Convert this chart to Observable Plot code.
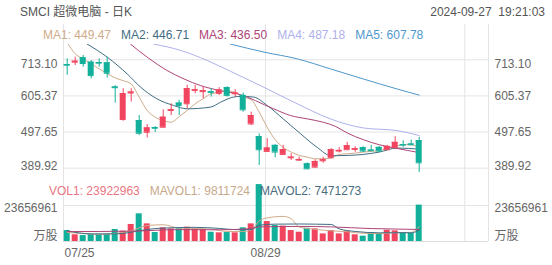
<!DOCTYPE html>
<html><head><meta charset="utf-8">
<script src="https://cdn.jsdelivr.net/npm/d3@7"></script>
<script src="https://cdn.jsdelivr.net/npm/@observablehq/plot@0.6"></script>
<style>
body{margin:0;background:#fff;}
#chart{position:relative;width:552px;height:265px;overflow:hidden;background:#fff;font-family:"Liberation Sans",Arial,"Noto Sans CJK SC",sans-serif;font-size:12px;}
.abs{position:absolute;white-space:nowrap;line-height:14px;}
.lg span{margin-right:10px;}
#price,#vol{position:absolute;left:0;}
#price{top:0;} #vol{top:180px;}
</style></head><body><div id="chart"><div id="price"></div><div id="vol"></div></div>
<script>
const title = "SMCI 超微电脑 - 日K";
const stamp = "2024-09-27\u00a0\u00a019:21:03";
const maNames = ["MA1", "MA2", "MA3", "MA4", "MA5"];
const maLast = ["449.47", "446.71", "436.50", "487.18", "607.78"];
const volNames = ["VOL1", "MAVOL1", "MAVOL2"];
const volLast = ["23922963", "9811724", "7471273"];
const dateLabels = ["07/25", "08/29"];
const dateIdx = [-0.4625, 24.8];
const gridIdx = [-0.4625, 24.8, 49.7, 52.6625];
const priceTicks = [389.92, 497.65, 605.37, 713.10];
const volTicks = [23656961];

const open  = [699,706,719,706,705,704,632,535,614,532,497,511,512,562,584,582,622,618,618,613,630,612,607,522,484,440,458,431,421,414,403,393,412,421,441,445,446,451,444,452,445,451,460,462,472];
const high  = [716,721,726,711,716,721,636,627,627,547,520,514,564,582,592,637,637,631,627,630,633,624,614,557,492,478,460,458,433,423,406,415,423,448,451,467,454,454,458,455,458,484,472,474,482];
const low   = [667,696,691,656,691,659,584,530,587,487,480,496,512,547,547,567,612,597,602,607,602,602,557,517,398,438,421,431,413,410,386,391,405,418,435,443,437,437,440,437,443,448,452,457,377];
const close = [697,709,702,666,703,673,630,612,617,494,510,509,542,564,577,627,624,621,616,623,607,614,564,547,445,450,438,445,423,416,388,410,415,445,443,457,448,441,442,441,455,467,459,460,406];
const volume = [7.2,4.4,3.9,4.8,4.8,4.8,7.9,6.8,11.2,18.2,11.6,5.9,9.0,8.3,8.3,9.4,8.3,7.9,6.1,5.7,5.9,5.7,9.0,11.6,37.4,13.1,10.5,10.1,7.2,6.1,8.7,8.3,5.0,7.2,5.0,6.8,4.4,3.5,5.7,5.2,7.4,7.0,5.5,5.3,23.92]; // millions

const ma1Idx = [0,1,2,3,4,5,6,7,8,9,10,11,12,13,14,15,16,17,18,19,20,21,22,23,24,25,26,27,28,29,30,31,32,33,34,35,36,37,38,39,40,41,42,43,44];
const ma1Val = [765,731,716,701,686,672,659,651,641,602,562,542,532,527,544,562,582,597,612,616,620,616,602,594,557,512,475,452,438,428,423,418,418,421,431,433,435,438,440,443,448,455,460,460,449.47];
const ma2Idx = [2.5,5,7.5,9.2,11.2,13.3,15,17.9,19.2,20.8,21.7,23.3,25,27,29.2,31.25,33,35,37,39,41.25,44];
const ma2Val = [760,721,671,631,597,577,567,572,587,602,604,602,577,537,492,452,427,428,431,438,450,446.71];
const ma3Idx = [7.9,10,12.5,14.6,16.7,19.2,21.25,25.8,27.9,30,32,33.5,35,37,39,41,44];
const ma3Val = [760,721,681,656,636,621,612,567,547,537,527,515,495,475,460,450,436.5];
const ma4Idx = [10.8,14.2,17.5,20.4,24.6,28.75,32.9,37,41.25,44];
const ma4Val = [760,741,711,679,631,582,537,510,502,487.18];
const ma5Idx = [20.4,24.6,28.75,32.9,37,41.25,44];
const ma5Val = [760,736,716,686,656,626,607.78];

const mv1Idx = [0,2,4,6,8,10,12,14,16,18,20,22,23,24,25,27,28,29,31,33,35,37,39,41,43,44];
const mv1Val = [6.0,5.2,4.6,5.3,7.0,10.5,11.0,8.8,8.6,8.0,6.6,6.5,7.6,13.5,15.5,16.5,15.0,9.5,8.0,7.0,6.4,5.4,5.2,5.8,6.0,9.81];
const mv2Idx = [0,3,6,9,10,13,16,19,21,23,24,26,29,31,33,34,36,39,42,43,44];
const mv2Val = [7.0,5.0,5.0,7.0,7.9,9.0,9.3,8.6,7.8,7.8,10.7,11.4,11.5,11.4,11.2,8.3,6.6,5.7,5.8,5.7,7.47];
const mv3Idx = [0,8,14,19,23,24,29,33,38,41,44];
const mv3Val = [6.5,6.8,7.8,7.7,8.5,9.6,9.9,9.6,8.5,8.2,7.9];

const UP = "#f1455f", DOWN = "#12b09a", GRID = "#e4e4e4", LABEL = "#666";
const maColors = ["#d0ab8a", "#3f6d84", "#ad4577", "#aeb1ea", "#4d97cb"];
const volColors = ["#ea7683", "#c8a98c", "#4a6c80"];
const mvColors = ["#d0ab8a", "#3f6d84", "#ad4577"];
const FONT = '"Liberation Sans", Arial, "Noto Sans CJK SC", sans-serif';

const candles = open.map((o, i) => ({i, o, h: high[i], l: low[i], c: close[i], v: volume[i] * 1e6, col: close[i] >= o ? UP : DOWN}));
const pts = (idx, val, k = 1) => idx.map((x, j) => ({x, v: val[j] * k}));

const xDom = [-0.4625, 52.6625];
const HW = 0.375;

const chart = document.getElementById("chart");
function addText(txt, css, color) {
  const d = document.createElement("div");
  d.className = "abs"; d.style.cssText = css; d.style.color = color; d.textContent = txt;
  chart.appendChild(d); return d;
}
addText(title, "left:20px;top:5px;", "#555");
addText(stamp, "right:7px;top:5px;", "#555");

const maLines = [[ma1Idx, ma1Val], [ma2Idx, ma2Val], [ma3Idx, ma3Val], [ma4Idx, ma4Val], [ma5Idx, ma5Val]];

const price = Plot.plot({
  width: 552, height: 180,
  marginLeft: 63, marginRight: 64, marginTop: 44, marginBottom: 4,
  x: {domain: xDom, axis: null},
  y: {domain: [365.2, 758.7], axis: null},
  color: {type: "identity"},
  style: {background: "transparent", fontFamily: FONT},
  marks: [
    Plot.ruleY(priceTicks, {y: d => d, stroke: GRID}),
    Plot.ruleX(gridIdx, {x: d => d, y1: () => 818, y2: () => 353, stroke: GRID}),
    ...maLines.map(([ix, vv], k) => Plot.line(pts(ix, vv), {x: "x", y: "v", stroke: maColors[k], strokeWidth: 1, curve: "monotone-x", clip: true})),
    Plot.ruleX(candles, {x: "i", y1: "l", y2: "h", stroke: "col", strokeWidth: 1}),
    Plot.rect(candles, {x1: d => d.i - HW, x2: d => d.i + HW, y1: "o", y2: "c", fill: "col"}),
    Plot.ruleY(candles, {y: "c", x1: d => d.i - HW, x2: d => d.i + HW, stroke: "col"}),
    Plot.ruleY(candles, {y: "o", x1: d => d.i - HW, x2: d => d.i + HW, stroke: "col"}),
    Plot.text(priceTicks.slice(1, 3), {y: d => d, text: d => d.toFixed(2), frameAnchor: "left", dx: -6, textAnchor: "end", fill: LABEL, fontSize: 12}),
    Plot.text(priceTicks.slice(3), {y: d => d, text: d => d.toFixed(2), frameAnchor: "left", dx: -6, dy: 4, textAnchor: "end", fill: LABEL, fontSize: 12}),
    Plot.text(priceTicks.slice(0, 1), {y: d => d, text: d => d.toFixed(2), frameAnchor: "left", dx: -6, dy: -2, textAnchor: "end", fill: LABEL, fontSize: 12}),
    Plot.text(priceTicks.slice(1, 3), {y: d => d, text: d => d.toFixed(2), frameAnchor: "right", dx: 6, textAnchor: "start", fill: LABEL, fontSize: 12}),
    Plot.text(priceTicks.slice(3), {y: d => d, text: d => d.toFixed(2), frameAnchor: "right", dx: 6, dy: 4, textAnchor: "start", fill: LABEL, fontSize: 12}),
    Plot.text(priceTicks.slice(0, 1), {y: d => d, text: d => d.toFixed(2), frameAnchor: "right", dx: 6, dy: -2, textAnchor: "start", fill: LABEL, fontSize: 12})
  ]
});
document.getElementById("price").appendChild(price);

const mvLines = [[mv1Idx, mv1Val], [mv2Idx, mv2Val], [mv3Idx, mv3Val]];
const vmax = 37456000;
const vol = Plot.plot({
  width: 552, height: 85,
  marginLeft: 63, marginRight: 64, marginTop: 4, marginBottom: 24,
  x: {domain: xDom, axis: null},
  y: {domain: [0, vmax], axis: null},
  color: {type: "identity"},
  style: {background: "transparent", fontFamily: FONT},
  marks: [
    Plot.ruleY(volTicks, {y: d => d, stroke: GRID}),
    Plot.ruleY([0], {y: d => d, stroke: "#dcdcdc"}),
    Plot.ruleX(gridIdx, {x: d => d, y1: () => vmax * 61 / 57, y2: () => 0, stroke: GRID}),
    Plot.rect(candles, {x1: d => d.i - HW, x2: d => d.i + HW, y1: () => 0, y2: "v", fill: "col", clip: true}),
    ...mvLines.map(([ix, vv], k) => Plot.line(pts(ix, vv, 1e6), {x: "x", y: "v", stroke: mvColors[k], strokeWidth: 1, curve: "monotone-x", clip: true})),
    Plot.text(volTicks, {y: d => d, text: d => String(d), frameAnchor: "left", dx: -6, dy: 3, textAnchor: "end", fill: LABEL, fontSize: 12}),
    Plot.text(volTicks, {y: d => d, text: d => String(d), frameAnchor: "right", dx: 6, dy: 3, textAnchor: "start", fill: LABEL, fontSize: 12}),
    Plot.text(["万股"], {y: () => 0, text: d => d, frameAnchor: "left", dx: -6, dy: -5, textAnchor: "end", fill: LABEL, fontSize: 12}),
    Plot.text(["万股"], {y: () => 0, text: d => d, frameAnchor: "right", dx: 6, dy: -5, textAnchor: "start", fill: LABEL, fontSize: 12}),
    Plot.text([0], {x: () => dateIdx[0], y: () => 0, text: () => dateLabels[0], dx: 1, dy: 12, textAnchor: "start", fill: LABEL, fontSize: 12}),
    Plot.text([1], {x: () => dateIdx[1], y: () => 0, text: () => dateLabels[1], dy: 12, textAnchor: "middle", fill: LABEL, fontSize: 12})
  ]
});
document.getElementById("vol").appendChild(vol);

const lg1 = document.createElement("div");
lg1.className = "abs lg"; lg1.style.cssText = "left:43px;top:28px;";
maNames.forEach((n, k) => { const s = document.createElement("span"); s.style.color = maColors[k]; s.textContent = n + ": " + maLast[k]; lg1.appendChild(s); });
chart.appendChild(lg1);
const lg2 = document.createElement("div");
lg2.className = "abs lg"; lg2.style.cssText = "left:49px;top:184px;";
volNames.forEach((n, k) => { const s = document.createElement("span"); s.style.color = volColors[k]; s.textContent = n + ": " + volLast[k]; lg2.appendChild(s); });
chart.appendChild(lg2);
</script></body></html>
